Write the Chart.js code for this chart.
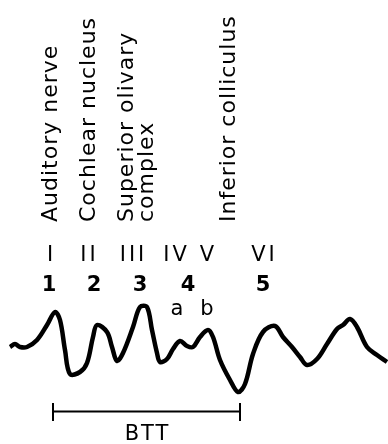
<!DOCTYPE html>
<html>
<head>
<meta charset="utf-8">
<script src="https://cdn.jsdelivr.net/npm/chart.js@4/dist/chart.umd.min.js"></script>
<style>
  html, body { margin: 0; padding: 0; background: #fff; }
  #wrap { width: 388px; height: 444px; }
</style>
</head>
<body>
<div id="wrap"><canvas id="abr" width="388" height="444"></canvas></div>
<script>
// waveform (time units, amplitude up = positive)
const times = [10, 15, 20, 27, 37, 47, 55, 60, 65, 70, 80, 87, 93, 97, 107, 112, 117, 123, 133, 140, 147, 152, 157, 160, 167, 173, 180, 187, 193, 200, 208, 213, 220, 230, 238, 245, 253, 263, 275, 283, 292, 300, 307, 317, 327, 337, 343, 350, 357, 367, 377, 387];
const amps = [0, 3, 0, 0, 7, 22, 35, 27, -3, -27, -25, -16, 10, 22, 15, 0, -14, -6, 20, 40, 40, 17, -6, -15, -12, -2, 6, 1, 0, 10, 17, 10, -13, -33, -45, -37, -7, 15, 21, 10, 0, -10, -18, -12, 3, 18, 22, 28, 20, 0, -8, -15];

// wave labels
const romanLabels = ['I', 'II', 'III', 'IV', 'V', 'VI'];
const romanAt = [50, 88, 132, 175, 207, 263];
const peakNumbers = ['1', '2', '3', '4', '5'];
const peakNumbersAt = [49, 94, 140, 188, 263];
const subLabels = ['a', 'b'];
const subLabelsAt = [177, 207];
const structures = [['Auditory nerve'], ['Cochlear nucleus'], ['Superior olivary', 'complex'], ['Inferior colliculus']];
const structuresAt = [51, 89, 127, 229];
const bttStart = 53;
const bttEnd = 240;

const annotate = {
  id: 'annotate',
  afterDraw(chart) {
    const ctx = chart.ctx;
    const x = chart.scales.x;
    ctx.save();
    ctx.fillStyle = '#000';
    ctx.strokeStyle = '#000';

    // rotated structure names
    ctx.font = '22px "DejaVu Sans"';
    ctx.letterSpacing = '1px';
    ctx.textAlign = 'left';
    ctx.textBaseline = 'middle';
    structures.forEach((lines, i) => {
      lines.forEach((line, j) => {
        ctx.save();
        ctx.translate(x.getPixelForValue(structuresAt[i]) + j * 20, 222);
        ctx.rotate(-Math.PI / 2);
        ctx.fillText(line, 0, 0);
        ctx.restore();
      });
    });

    ctx.textAlign = 'center';
    ctx.textBaseline = 'alphabetic';
    ctx.font = '21px "DejaVu Sans"';
    ctx.letterSpacing = '3px';
    romanLabels.forEach((t, i) => ctx.fillText(t, x.getPixelForValue(romanAt[i]) + 1.5, 261));
    ctx.letterSpacing = '0px';

    ctx.font = 'bold 21px "DejaVu Sans"';
    peakNumbers.forEach((t, i) => ctx.fillText(t, x.getPixelForValue(peakNumbersAt[i]), 291));

    ctx.font = '21px "DejaVu Sans"';
    subLabels.forEach((t, i) => ctx.fillText(t, x.getPixelForValue(subLabelsAt[i]), 315));

    // BTT bracket
    const x0 = x.getPixelForValue(bttStart);
    const x1 = x.getPixelForValue(bttEnd);
    ctx.lineWidth = 2;
    ctx.beginPath();
    ctx.moveTo(x0, 411.5); ctx.lineTo(x1, 411.5);
    ctx.moveTo(x0, 403); ctx.lineTo(x0, 421);
    ctx.moveTo(x1, 403); ctx.lineTo(x1, 421);
    ctx.stroke();
    ctx.letterSpacing = '2px';
    ctx.fillText('BTT', (x0 + x1) / 2 + 1, 440);
    ctx.restore();
  }
};

new Chart(document.getElementById('abr'), {
  type: 'line',
  data: {
    datasets: [{
      data: times.map((t, i) => ({ x: t, y: amps[i] })),
      borderColor: '#000',
      borderWidth: 4.5,
      pointRadius: 0,
      tension: 0.35,
      fill: false
    }]
  },
  options: {
    responsive: false,
    animation: false,
    layout: { padding: 0 },
    plugins: { legend: { display: false }, tooltip: { enabled: false } },
    scales: {
      x: { type: 'linear', display: false, min: 0, max: 388 },
      y: { type: 'linear', display: false, min: -97, max: 347 }
    }
  },
  plugins: [annotate]
});
</script>
</body>
</html>
